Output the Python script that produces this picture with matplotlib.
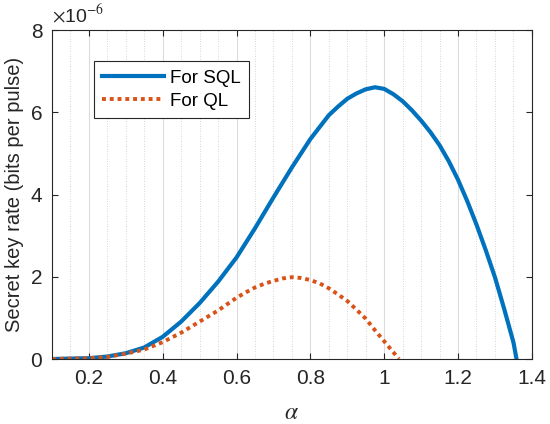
import numpy as np
import matplotlib.pyplot as plt
from matplotlib.ticker import MultipleLocator

plt.rcParams['font.family'] = ['Liberation Sans', 'DejaVu Sans']
plt.rcParams['mathtext.fontset'] = 'stix'

# values (key rate in units of 1e-6)
alpha_sql = [0.10, 0.15, 0.20, 0.25, 0.30, 0.35, 0.40, 0.45, 0.50, 0.55, 0.60,
             0.65, 0.70, 0.75, 0.80, 0.85, 0.875, 0.90, 0.925, 0.95, 0.975,
             1.00, 1.025, 1.05, 1.075, 1.10, 1.125, 1.15, 1.175, 1.20, 1.225,
             1.25, 1.275, 1.30, 1.325, 1.35, 1.3585]
rate_sql = [0.0, 0.01, 0.02, 0.06, 0.14, 0.28, 0.54, 0.91, 1.36, 1.88, 2.47,
            3.18, 3.93, 4.66, 5.35, 5.93, 6.14, 6.33, 6.46, 6.56, 6.61,
            6.57, 6.44, 6.27, 6.05, 5.80, 5.52, 5.20, 4.81, 4.36, 3.84,
            3.27, 2.65, 1.99, 1.22, 0.41, 0.0]

alpha_ql = [0.10, 0.15, 0.20, 0.25, 0.30, 0.35, 0.40, 0.45, 0.50, 0.55, 0.60,
            0.625, 0.65, 0.675, 0.70, 0.725, 0.75, 0.775, 0.80, 0.825, 0.85,
            0.875, 0.90, 0.925, 0.95, 0.975, 1.00, 1.04]
rate_ql = [0.0, 0.01, 0.02, 0.05, 0.13, 0.23, 0.41, 0.64, 0.91, 1.18, 1.49,
           1.62, 1.74, 1.83, 1.90, 1.96, 1.99, 1.97, 1.92, 1.84, 1.72,
           1.57, 1.41, 1.20, 0.98, 0.70, 0.43, 0.0]

fig = plt.figure(figsize=(5.5, 4.24), dpi=100)
ax = fig.add_axes([0.0945, 0.1533, 0.8725, 0.7757])

ax.plot(alpha_sql, rate_sql, color='#0072BD', lw=3.0, label='For SQL',
        solid_joinstyle='round')
ax.plot(alpha_ql, rate_ql, color='#D95319', lw=2.8, ls=(0, (1, 1)),
        label='For QL')

ax.set_xlim(0.1, 1.4)
ax.set_ylim(0, 8)
ax.xaxis.set_minor_locator(MultipleLocator(0.05))
ax.yaxis.set_major_locator(MultipleLocator(2))
ax.set_xticks([0.2, 0.4, 0.6, 0.8, 1.0, 1.2, 1.4])
ax.set_xticklabels(['0.2', '0.4', '0.6', '0.8', '1', '1.2', '1.4'])

ax.grid(True, axis='x', which='major', color='#dcdcdc', lw=0.8)
ax.grid(True, axis='x', which='minor', color='#c8c8c8', lw=0.6, ls=(0, (1, 2)))
ax.set_axisbelow(True)

for s in ax.spines.values():
    s.set_color('#262626')
    s.set_linewidth(0.8)
ax.tick_params(which='major', direction='in', top=True, right=True, length=4,
               width=0.8, color='#262626', labelcolor='#262626', labelsize=15,
               pad=7)
ax.tick_params(which='minor', length=0, top=True, right=True)

ax.set_xlabel(r'$\alpha$', fontsize=17, color='#262626', labelpad=10)
ax.set_ylabel('Secret key rate (bits per pulse)', fontsize=14.5,
              color='#262626', labelpad=5)
ax.text(0.0, 1.012, r'$\times$10$^{-6}$', transform=ax.transAxes,
        fontsize=14, color='#262626', va='bottom', ha='left')

leg = ax.legend(loc='upper left', bbox_to_anchor=(0.087, 0.905), fontsize=13.5,
                handlelength=3.3, handletextpad=0.3, borderpad=0.45,
                labelspacing=0.3, fancybox=False, framealpha=1,
                edgecolor='#262626', borderaxespad=0)
leg.get_frame().set_linewidth(0.8)

fig.savefig('out.png', dpi=100)
